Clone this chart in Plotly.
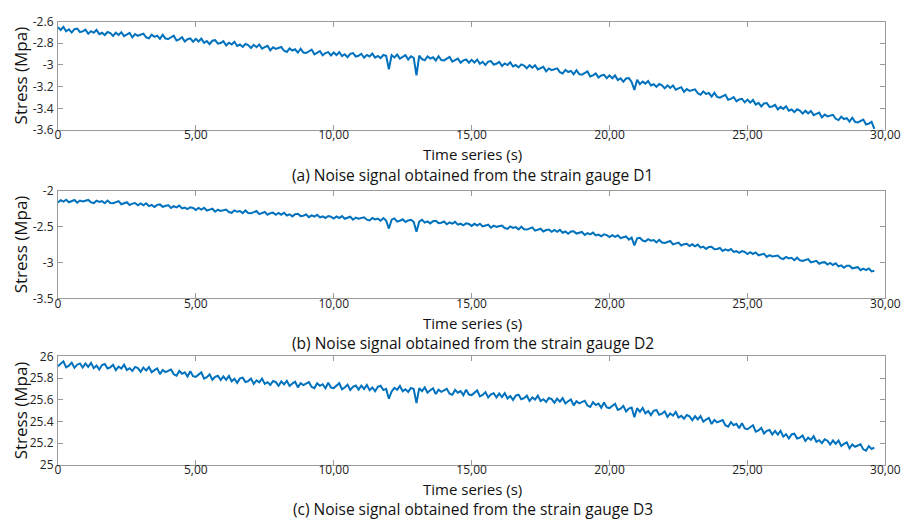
import plotly.graph_objects as go

# time axis: 0 .. 29.6 s, sampled every 0.1 s
time_s = [round(i * 0.1, 1) for i in range(297)]

stress_d1 = [
    -2.651, -2.677, -2.649, -2.689, -2.671, -2.701, -2.670, -2.665, -2.697, -2.691,
    -2.674, -2.712, -2.688, -2.703, -2.677, -2.716, -2.703, -2.724, -2.696, -2.706,
    -2.732, -2.702, -2.723, -2.698, -2.734, -2.719, -2.705, -2.746, -2.716, -2.731,
    -2.720, -2.711, -2.745, -2.755, -2.721, -2.741, -2.730, -2.760, -2.722, -2.757,
    -2.761, -2.745, -2.730, -2.774, -2.764, -2.745, -2.783, -2.763, -2.755, -2.786,
    -2.759, -2.784, -2.757, -2.796, -2.779, -2.808, -2.777, -2.772, -2.804, -2.798,
    -2.781, -2.820, -2.795, -2.811, -2.786, -2.825, -2.812, -2.834, -2.807, -2.816,
    -2.843, -2.814, -2.836, -2.812, -2.850, -2.836, -2.823, -2.865, -2.837, -2.852,
    -2.843, -2.835, -2.869, -2.880, -2.847, -2.867, -2.856, -2.887, -2.850, -2.885,
    -2.890, -2.874, -2.858, -2.902, -2.891, -2.873, -2.911, -2.890, -2.882, -2.912,
    -2.885, -2.909, -2.881, -2.919, -2.901, -2.929, -2.897, -2.891, -2.922, -2.915,
    -2.897, -2.934, -2.908, -2.922, -2.895, -2.932, -2.917, -2.937, -2.908, -2.916,
    -3.040, -2.910, -2.931, -2.905, -2.941, -2.925, -2.910, -2.950, -2.920, -2.934,
    -3.095, -2.914, -2.947, -2.957, -2.922, -2.941, -2.929, -2.959, -2.920, -2.955,
    -2.958, -2.942, -2.926, -2.970, -2.959, -2.941, -2.979, -2.958, -2.950, -2.980,
    -2.953, -2.978, -2.950, -2.989, -2.971, -3.001, -2.970, -2.964, -2.996, -2.989,
    -2.972, -3.010, -2.986, -3.001, -2.976, -3.014, -3.001, -3.023, -2.995, -3.005,
    -3.031, -3.003, -3.026, -3.003, -3.041, -3.028, -3.017, -3.059, -3.032, -3.048,
    -3.040, -3.032, -3.067, -3.078, -3.045, -3.065, -3.055, -3.086, -3.049, -3.085,
    -3.090, -3.075, -3.060, -3.106, -3.096, -3.078, -3.117, -3.097, -3.091, -3.122,
    -3.096, -3.123, -3.097, -3.139, -3.123, -3.154, -3.125, -3.121, -3.156, -3.230,
    -3.136, -3.177, -3.154, -3.172, -3.148, -3.189, -3.178, -3.202, -3.176, -3.188,
    -3.216, -3.188, -3.212, -3.190, -3.229, -3.216, -3.205, -3.248, -3.222, -3.239,
    -3.231, -3.225, -3.262, -3.275, -3.244, -3.267, -3.259, -3.292, -3.257, -3.295,
    -3.302, -3.288, -3.275, -3.321, -3.313, -3.296, -3.336, -3.318, -3.312, -3.345,
    -3.320, -3.348, -3.323, -3.365, -3.350, -3.383, -3.355, -3.352, -3.387, -3.383,
    -3.369, -3.410, -3.387, -3.405, -3.381, -3.422, -3.411, -3.435, -3.409, -3.421,
    -3.449, -3.422, -3.446, -3.424, -3.463, -3.451, -3.440, -3.484, -3.457, -3.475,
    -3.467, -3.460, -3.497, -3.509, -3.478, -3.499, -3.490, -3.523, -3.487, -3.525,
    -3.531, -3.517, -3.504, -3.550, -3.542, -3.525, -3.590,
]

stress_d2 = [
    -2.162, -2.130, -2.150, -2.123, -2.158, -2.141, -2.126, -2.165, -2.134, -2.147,
    -2.135, -2.126, -2.159, -2.169, -2.135, -2.154, -2.142, -2.172, -2.134, -2.168,
    -2.172, -2.157, -2.142, -2.186, -2.176, -2.158, -2.197, -2.177, -2.169, -2.200,
    -2.174, -2.200, -2.172, -2.212, -2.194, -2.224, -2.194, -2.188, -2.221, -2.214,
    -2.198, -2.237, -2.213, -2.230, -2.205, -2.244, -2.232, -2.254, -2.228, -2.238,
    -2.265, -2.236, -2.259, -2.235, -2.273, -2.260, -2.248, -2.290, -2.262, -2.278,
    -2.269, -2.260, -2.295, -2.305, -2.271, -2.291, -2.280, -2.310, -2.272, -2.308,
    -2.312, -2.296, -2.280, -2.324, -2.313, -2.294, -2.332, -2.311, -2.303, -2.333,
    -2.306, -2.331, -2.304, -2.343, -2.326, -2.355, -2.324, -2.319, -2.351, -2.345,
    -2.328, -2.366, -2.341, -2.357, -2.331, -2.369, -2.356, -2.377, -2.350, -2.359,
    -2.385, -2.355, -2.377, -2.351, -2.388, -2.373, -2.360, -2.401, -2.371, -2.386,
    -2.376, -2.367, -2.401, -2.412, -2.378, -2.397, -2.386, -2.416, -2.379, -2.414,
    -2.525, -2.401, -2.384, -2.428, -2.416, -2.396, -2.433, -2.411, -2.403, -2.432,
    -2.570, -2.429, -2.402, -2.441, -2.424, -2.453, -2.422, -2.417, -2.449, -2.443,
    -2.426, -2.465, -2.440, -2.456, -2.431, -2.470, -2.457, -2.479, -2.452, -2.461,
    -2.488, -2.459, -2.482, -2.458, -2.496, -2.483, -2.471, -2.513, -2.485, -2.501,
    -2.492, -2.484, -2.518, -2.529, -2.496, -2.516, -2.505, -2.536, -2.499, -2.534,
    -2.539, -2.524, -2.509, -2.554, -2.544, -2.527, -2.566, -2.546, -2.539, -2.570,
    -2.544, -2.570, -2.543, -2.583, -2.566, -2.597, -2.567, -2.562, -2.595, -2.589,
    -2.573, -2.613, -2.589, -2.606, -2.581, -2.621, -2.610, -2.632, -2.606, -2.616,
    -2.644, -2.617, -2.641, -2.619, -2.658, -2.646, -2.635, -2.679, -2.652, -2.760,
    -2.662, -2.655, -2.692, -2.704, -2.673, -2.694, -2.685, -2.718, -2.682, -2.720,
    -2.726, -2.713, -2.699, -2.746, -2.737, -2.721, -2.761, -2.743, -2.737, -2.770,
    -2.745, -2.773, -2.749, -2.791, -2.777, -2.809, -2.781, -2.779, -2.814, -2.811,
    -2.797, -2.838, -2.816, -2.834, -2.811, -2.852, -2.841, -2.865, -2.840, -2.852,
    -2.881, -2.854, -2.880, -2.858, -2.898, -2.887, -2.877, -2.921, -2.895, -2.914,
    -2.907, -2.901, -2.938, -2.951, -2.920, -2.942, -2.933, -2.966, -2.931, -2.969,
    -2.976, -2.963, -2.951, -2.998, -2.991, -2.975, -3.016, -2.999, -2.994, -3.028,
    -3.004, -3.033, -3.009, -3.053, -3.039, -3.072, -3.045, -3.043, -3.080, -3.077,
    -3.064, -3.106, -3.085, -3.104, -3.082, -3.124, -3.115,
]

stress_d3 = [
    25.910, 25.933, 25.955, 25.900, 25.915, 25.943, 25.895, 25.924, 25.936, 25.898,
    25.935, 25.904, 25.941, 25.892, 25.916, 25.880, 25.921, 25.930, 25.889, 25.900,
    25.923, 25.874, 25.907, 25.889, 25.924, 25.875, 25.892, 25.866, 25.904, 25.893,
    25.859, 25.898, 25.870, 25.902, 25.854, 25.874, 25.890, 25.837, 25.875, 25.856,
    25.868, 25.880, 25.835, 25.822, 25.866, 25.840, 25.854, 25.815, 25.864, 25.818,
    25.812, 25.833, 25.853, 25.796, 25.809, 25.835, 25.785, 25.812, 25.822, 25.782,
    25.817, 25.785, 25.821, 25.771, 25.794, 25.757, 25.798, 25.805, 25.764, 25.773,
    25.796, 25.747, 25.780, 25.761, 25.796, 25.747, 25.763, 25.737, 25.774, 25.763,
    25.729, 25.770, 25.742, 25.776, 25.728, 25.750, 25.767, 25.715, 25.754, 25.736,
    25.749, 25.763, 25.719, 25.708, 25.753, 25.729, 25.744, 25.707, 25.757, 25.713,
    25.708, 25.731, 25.753, 25.698, 25.713, 25.740, 25.691, 25.720, 25.732, 25.694,
    25.731, 25.700, 25.738, 25.689, 25.714, 25.679, 25.721, 25.730, 25.690, 25.701,
    25.610, 25.677, 25.711, 25.692, 25.728, 25.680, 25.698, 25.673, 25.710, 25.700,
    25.570, 25.708, 25.680, 25.714, 25.666, 25.688, 25.706, 25.653, 25.693, 25.674,
    25.688, 25.701, 25.657, 25.646, 25.691, 25.666, 25.681, 25.643, 25.694, 25.649,
    25.644, 25.666, 25.687, 25.631, 25.645, 25.671, 25.622, 25.650, 25.661, 25.622,
    25.658, 25.626, 25.662, 25.612, 25.636, 25.599, 25.639, 25.647, 25.606, 25.615,
    25.638, 25.589, 25.622, 25.603, 25.638, 25.589, 25.606, 25.580, 25.617, 25.606,
    25.572, 25.611, 25.583, 25.615, 25.566, 25.587, 25.603, 25.549, 25.587, 25.568,
    25.580, 25.592, 25.547, 25.534, 25.578, 25.552, 25.566, 25.527, 25.576, 25.530,
    25.524, 25.545, 25.564, 25.507, 25.519, 25.544, 25.493, 25.520, 25.529, 25.440,
    25.523, 25.490, 25.526, 25.474, 25.497, 25.459, 25.499, 25.506, 25.463, 25.472,
    25.494, 25.443, 25.475, 25.454, 25.488, 25.437, 25.452, 25.425, 25.460, 25.448,
    25.412, 25.450, 25.419, 25.450, 25.399, 25.418, 25.433, 25.377, 25.414, 25.392,
    25.403, 25.413, 25.366, 25.352, 25.394, 25.366, 25.378, 25.337, 25.385, 25.337,
    25.329, 25.348, 25.366, 25.307, 25.318, 25.341, 25.289, 25.314, 25.322, 25.280,
    25.313, 25.279, 25.313, 25.261, 25.282, 25.243, 25.281, 25.287, 25.243, 25.251,
    25.271, 25.220, 25.251, 25.231, 25.264, 25.213, 25.228, 25.200, 25.236, 25.223,
    25.187, 25.225, 25.194, 25.225, 25.174, 25.193, 25.207, 25.152, 25.188, 25.167,
    25.177, 25.189, 25.143, 25.130, 25.173, 25.147, 25.160,
]

x_tickvals = [0, 5, 10, 15, 20, 25, 30]
x_ticktext = ["0", "5,00", "10,00", "15,00", "20,00", "25,00", "30,00"]

y1_tickvals = [-2.6, -2.8, -3.0, -3.2, -3.4, -3.6]
y1_ticktext = ["-2.6", "-2.8", "-3", "-3.2", "-3.4", "-3.6"]
y2_tickvals = [-2.0, -2.5, -3.0, -3.5]
y2_ticktext = ["-2", "-2.5", "-3", "-3.5"]
y3_tickvals = [26.0, 25.8, 25.6, 25.4, 25.2, 25.0]
y3_ticktext = ["26", "25.8", "25.6", "25.4", "25.2", "25"]

captions = [
    "(a) Noise signal obtained from the strain gauge D1",
    "(b) Noise signal obtained from the strain gauge D2",
    "(c) Noise signal obtained from the strain gauge D3",
]

W, H = 919, 529
FONT = "Open Sans"
LINE_BLUE = "#0072BD"
FRAME = "#9a9a9a"

def py(px):
    return 1 - px / H

panels = [
    # (series, tickvals, ticktext, range, top px, bottom px, title y px, caption y px)
    (stress_d1, y1_tickvals, y1_ticktext, [-3.6, -2.6], 13, 125, 150, 171),
    (stress_d2, y2_tickvals, y2_ticktext, [-3.5, -2.0], 188, 299, 324, 345),
    (stress_d3, y3_tickvals, y3_ticktext, [25.0, 26.0], 359, 471, 496, 517),
]

fig = go.Figure()
x_domain = [56 / W, 900 / W]
annotations = []
for i, (ys, tv, tt, rng, top, bot, ty, cy) in enumerate(panels, start=1):
    sfx = "" if i == 1 else str(i)
    fig.add_trace(go.Scatter(
        x=time_s, y=ys, mode="lines",
        line=dict(color=LINE_BLUE, width=2),
        xaxis="x" + sfx, yaxis="y" + sfx, showlegend=False,
    ))
    common = dict(
        showline=True, linecolor=FRAME, linewidth=1, mirror="ticks",
        ticks="inside", ticklen=5, tickcolor=FRAME, tickwidth=1,
        showgrid=False, zeroline=False,
        tickfont=dict(family=FONT, size=12, color="#222222"),
    )
    fig.update_layout(**{
        "xaxis" + sfx: dict(
            domain=x_domain, range=[0, 30], anchor="y" + sfx,
            tickvals=x_tickvals, ticktext=x_ticktext,
            ticklabelstandoff=-6, **common,
        ),
        "yaxis" + sfx: dict(
            domain=[py(bot), py(top)], range=rng, anchor="x" + sfx,
            tickvals=tv, ticktext=tt, ticklabelstandoff=1, **common,
        ),
    })
    annotations.append(dict(
        text="Stress (Mpa)", textangle=-90, x=18 / W, y=py((top + bot) / 2),
        xref="paper", yref="paper", xanchor="center", yanchor="middle",
        showarrow=False, font=dict(family=FONT, size=17, color="#111111"),
    ))
    annotations.append(dict(
        text="Time series (s)", x=479 / W, y=py(ty),
        xref="paper", yref="paper", xanchor="center", yanchor="middle",
        showarrow=False, font=dict(family=FONT, size=15, color="#111111"),
    ))
    annotations.append(dict(
        text=captions[i - 1], x=479 / W, y=py(cy),
        xref="paper", yref="paper", xanchor="center", yanchor="middle",
        showarrow=False, font=dict(family=FONT, size=15.5, color="#111111"),
    ))

fig.update_layout(
    width=W, height=H, margin=dict(l=0, r=0, t=0, b=0),
    paper_bgcolor="white", plot_bgcolor="white",
    annotations=annotations,
)

fig.write_html("out.html")
